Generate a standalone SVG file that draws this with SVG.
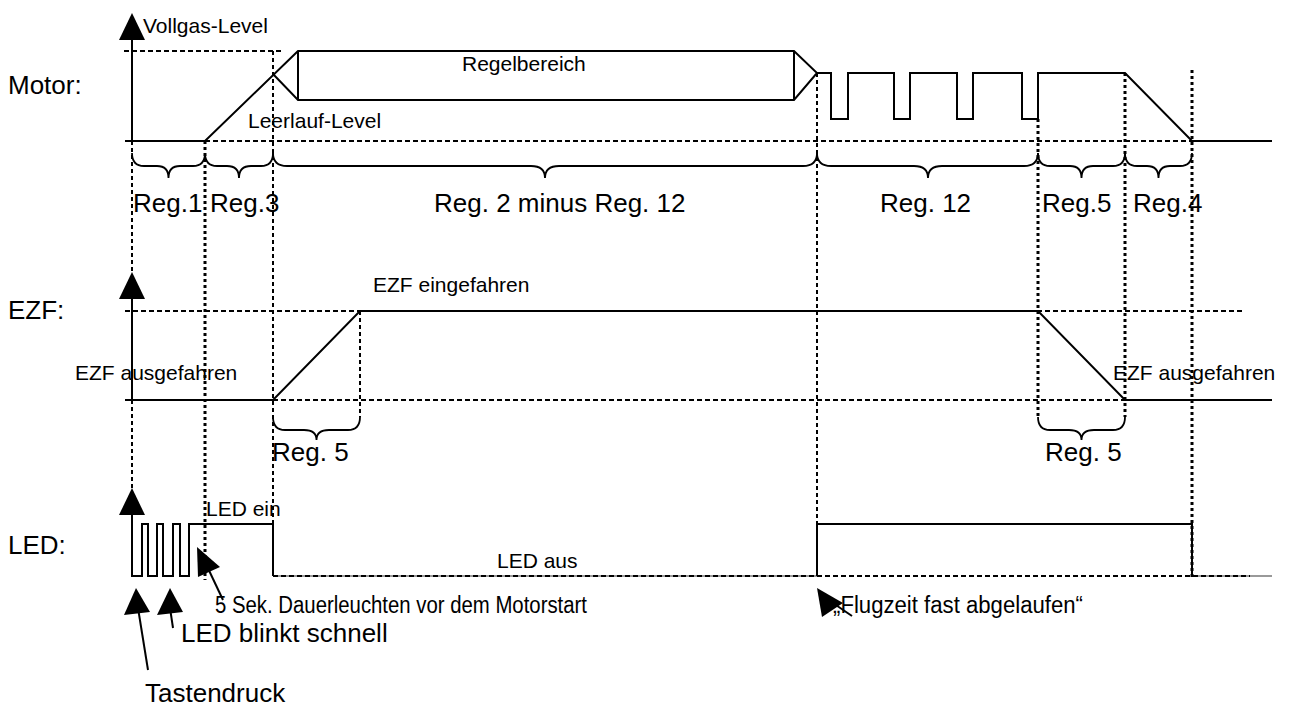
<svg xmlns="http://www.w3.org/2000/svg" width="1290" height="707" viewBox="0 0 1290 707">
<style>
.s{stroke:#000;stroke-width:2;fill:none;stroke-linejoin:miter}
.h{stroke:#000;stroke-width:2;stroke-dasharray:5 3;fill:none}
.v{stroke:#000;stroke-width:2;stroke-dasharray:4 3;fill:none}
.vb{stroke:#000;stroke-width:3;stroke-dasharray:3 3;fill:none}
.g{stroke:#999;stroke-width:2;fill:none}
.b{stroke:#000;stroke-width:1.8;fill:none}
.ah{fill:#000;stroke:none}
text{font-family:"Liberation Sans",Arial,sans-serif;fill:#000}
.L{font-size:26px}
.M{font-size:23px}
.S{font-size:21px}
</style>
<rect width="1290" height="707" fill="#fff"/>

<g id="guides">
  <line class="h" x1="124" y1="51" x2="284" y2="51"/>
  <line class="h" x1="205" y1="141" x2="1192" y2="141"/>
  <line class="h" x1="125" y1="311" x2="1243" y2="311"/>
  <line class="h" x1="273" y1="400" x2="1125" y2="400"/>
  <line class="g" x1="273" y1="576" x2="817" y2="576"/>
  <line class="g" x1="1192" y1="576" x2="1272" y2="576"/>
  <line class="h" x1="273" y1="576" x2="1250" y2="576"/>
  <line class="v" x1="132" y1="141" x2="132" y2="577"/>
  <line class="vb" x1="205" y1="141" x2="205" y2="580"/>
  <line class="v" x1="273" y1="51" x2="273" y2="576"/>
  <line class="v" x1="360" y1="311" x2="360" y2="417"/>
  <line class="v" x1="817" y1="73" x2="817" y2="577"/>
  <line class="vb" x1="1038" y1="119" x2="1038" y2="417"/>
  <line class="vb" x1="1125" y1="73" x2="1125" y2="417"/>
  <line class="vb" x1="1192" y1="70" x2="1192" y2="580"/>
</g>

<g id="axes">
  <line class="s" x1="132" y1="38" x2="132" y2="141"/>
  <polygon class="ah" points="132,13 119,40 145,40"/>
  <line class="s" x1="132" y1="297" x2="132" y2="400"/>
  <polygon class="ah" points="132,272 119,299 145,299"/>
  <line class="s" x1="132" y1="513" x2="132" y2="576"/>
  <polygon class="ah" points="132,488 119,515 145,515"/>
</g>

<g id="motor-signal">
  <path class="s" d="M125,141 H205 L298,51 H794 L817,73 L794,100 H298 L273,74"/>
  <path class="s" d="M298,51 V100 M794,51 V100"/>
  <path class="s" d="M817,73 H831 V119 H848 V73 H894 V119 H910 V73 H957 V119 H973 V73 H1022 V119 H1038 V73 H1125 L1192,141 H1272"/>
</g>

<g id="ezf-signal">
  <path class="s" d="M125,400 H273 L360,311 H1038 L1125,400 H1272"/>
</g>

<g id="led-signal">
  <path class="s" d="M132,576 H142 V524 H148 V576 H157 V524 H163 V576 H173 V524 H180 V576 H189 V524 H273 V576"/>
  <path class="s" d="M817,576 V524 H1192 V576"/>
</g>

<g id="braces">
  <path class="b" d="M132,153 Q132,166 144,166 H157 Q168.5,166 168.5,178 Q168.5,166 180,166 H193 Q205,166 205,153"/>
  <path class="b" d="M205,153 Q205,166 217,166 H227 Q239,166 239,178 Q239,166 251,166 H261 Q273,166 273,153"/>
  <path class="b" d="M273,153 Q273,166 287,166 H531 Q545,166 545,178 Q545,166 559,166 H803 Q817,166 817,153"/>
  <path class="b" d="M817,153 Q817,166 831,166 H914 Q928,166 928,178 Q928,166 942,166 H1024 Q1038,166 1038,153"/>
  <path class="b" d="M1038,153 Q1038,166 1050,166 H1070 Q1081.5,166 1081.5,178 Q1081.5,166 1093,166 H1113 Q1125,166 1125,153"/>
  <path class="b" d="M1125,153 Q1125,166 1137,166 H1147 Q1158.5,166 1158.5,178 Q1158.5,166 1170,166 H1180 Q1192,166 1192,153"/>
  <path class="b" d="M273,417 Q273,430 285,430 H304 Q316.5,430 316.5,440 Q316.5,430 329,430 H348 Q360,430 360,417"/>
  <path class="b" d="M1038,417 Q1038,430 1050,430 H1069 Q1081.5,430 1081.5,440 Q1081.5,430 1094,430 H1113 Q1125,430 1125,417"/>
</g>

<g id="connectors">
  <line class="s" x1="223" y1="600" x2="205" y2="562"/>
  <polygon class="ah" points="197,547 220,567 198,577"/>
  <line class="s" x1="173" y1="628" x2="170" y2="608"/>
  <polygon class="ah" points="170,588 157,615 183,612"/>
  <line class="s" x1="148" y1="670" x2="138" y2="608"/>
  <polygon class="ah" points="136,588 124,615 150,612"/>
  <line class="s" x1="852" y1="616" x2="830" y2="601"/>
  <polygon class="ah" points="817,588 843,603 822,617"/>
</g>

<g id="labels">
  <text class="L" x="8" y="94">Motor:</text>
  <text class="L" x="8" y="319">EZF:</text>
  <text class="L" x="8" y="554">LED:</text>
  <text class="S" x="143" y="33">Vollgas-Level</text>
  <text class="S" x="462" y="71">Regelbereich</text>
  <text class="S" x="248" y="128">Leerlauf-Level</text>
  <text class="L" x="133" y="212">Reg.1</text>
  <text class="L" x="210" y="212">Reg.3</text>
  <text class="L" x="434" y="212">Reg. 2 minus Reg. 12</text>
  <text class="L" x="880" y="212">Reg. 12</text>
  <text class="L" x="1042" y="212">Reg.5</text>
  <text class="L" x="1133" y="212">Reg.4</text>
  <text class="S" x="373" y="292">EZF eingefahren</text>
  <text class="S" x="75" y="380">EZF ausgefahren</text>
  <text class="S" x="1113" y="380">EZF ausgefahren</text>
  <text class="L" x="272" y="461">Reg. 5</text>
  <text class="L" x="1045" y="461">Reg. 5</text>
  <text class="S" x="206" y="516">LED ein</text>
  <text class="S" x="497" y="568">LED aus</text>
  <text class="M" x="215" y="613" textLength="372" lengthAdjust="spacingAndGlyphs">5 Sek. Dauerleuchten vor dem Motorstart</text>
  <text class="L" x="181" y="642">LED blinkt schnell</text>
  <text class="M" x="833" y="613" textLength="250" lengthAdjust="spacingAndGlyphs">„Flugzeit fast abgelaufen“</text>
  <text class="L" x="145" y="702">Tastendruck</text>
</g>
</svg>
